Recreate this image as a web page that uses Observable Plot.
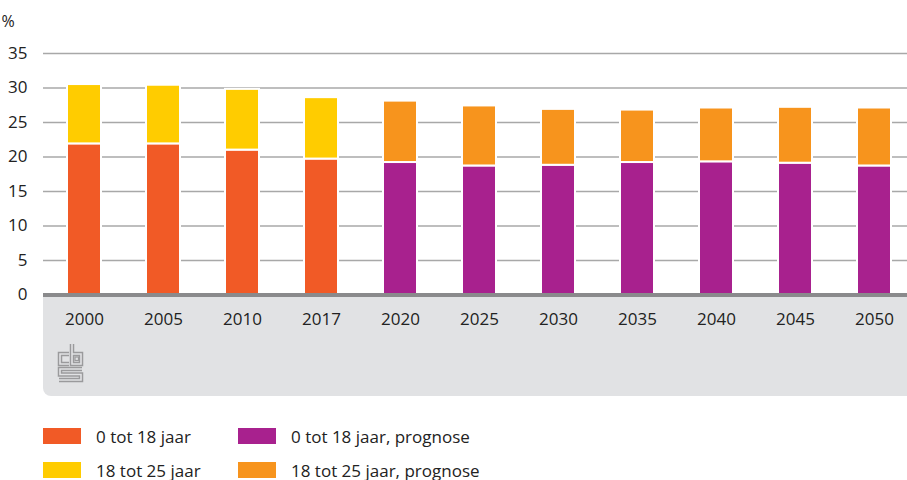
<!DOCTYPE html>
<html>
<head>
<meta charset="utf-8">
<script src="https://cdn.jsdelivr.net/npm/d3@7"></script>
<script src="https://cdn.jsdelivr.net/npm/@observablehq/plot@0.6"></script>
<style>
  html, body { margin: 0; padding: 0; background: #fff; }
  body { width: 907px; height: 480px; position: relative; overflow: hidden; font-family: "Open Sans", "Noto Sans", sans-serif; color: #222; }
  #chart { position: absolute; left: 0; top: 0; }
  .lg { position: absolute; display: flex; align-items: center; font-size: 17px; color: #222; white-space: nowrap; }
  .sw { width: 38px; height: 16px; margin-right: 15px; }
</style>
</head>
<body>
<div id="chart"></div>
<div id="legend"></div>
<script>
const years = ["2000","2005","2010","2017","2020","2025","2030","2035","2040","2045","2050"];
const age0to18 = [21.9, 21.9, 21.0, 19.7, 19.2, 18.7, 18.8, 19.2, 19.3, 19.1, 18.7];
const age18to25 = [8.6, 8.5, 8.8, 8.9, 8.9, 8.7, 8.1, 7.6, 7.8, 8.1, 8.4];
const isPrognose = [false, false, false, false, true, true, true, true, true, true, true];
const seriesNames = ["0 tot 18 jaar", "0 tot 18 jaar, prognose", "18 tot 25 jaar", "18 tot 25 jaar, prognose"];
const seriesColors = ["#f15a26", "#a8218e", "#ffcc00", "#f7941d"];
const yTicks = [0, 5, 10, 15, 20, 25, 30, 35];

const rows = [];
years.forEach((yr, i) => {
  rows.push({year: yr, series: isPrognose[i] ? seriesNames[1] : seriesNames[0], value: age0to18[i]});
  rows.push({year: yr, series: isPrognose[i] ? seriesNames[3] : seriesNames[2], value: age18to25[i]});
});

const chart = Plot.plot({
  width: 907,
  height: 400,
  marginLeft: 43,
  marginRight: 0,
  marginTop: 53,
  marginBottom: 104,
  style: {fontFamily: "'Open Sans', 'Noto Sans', sans-serif", fontSize: "17px", color: "#222", background: "transparent", overflow: "visible"},
  x: {domain: years, range: [42.2, 915.8], paddingInner: 0.57, paddingOuter: 0.3, label: null, axis: null},
  y: {domain: [0, 35], range: [294.5, 53], label: null, axis: null},
  color: {domain: seriesNames, range: seriesColors},
  marks: [
    Plot.ruleY(yTicks.filter(d => d > 0), {stroke: "#a8a8a8", strokeWidth: 1.5}),
    Plot.barY(rows, {x: "year", y: "value", fill: "series", order: seriesNames, stroke: "white", strokeWidth: 2}),
    Plot.ruleY([0], {stroke: "#8a8a8c", strokeWidth: 4}),
    Plot.axisX({tickSize: 0, tickPadding: 16.5, fontSize: 17, fill: "#222"}),
    Plot.axisY(yTicks, {tickSize: 0, tickPadding: 16, fontSize: 17, fill: "#222"})
  ]
});
document.getElementById("chart").appendChild(chart);

// decorations: grey panel, % label, logo
const svg = d3.select(chart);
svg.insert("path", ":first-child")
  .attr("d", "M43,295 H907 V396 H51 A8,8 0 0 1 43,388 Z")
  .attr("fill", "#e1e2e4");
svg.append("text").attr("x", 8).attr("y", 27).attr("font-size", 16).attr("fill", "#222").text("%");
const logo = svg.append("g").attr("fill", "none").attr("stroke-linejoin", "miter");
const logoPaths = [
  "M69,354 H60 V364 H69",
  "M72,344 V364 H81 V354 H72",
  "M82,369 H60 V374.5 H81 V380 H59"
];
logoPaths.forEach(p => {
  logo.append("path").attr("d", p).attr("stroke", "#9a9a9c").attr("stroke-width", 4.5);
  logo.append("path").attr("d", p).attr("stroke", "#e1e2e4").attr("stroke-width", 1.6);
});
logo.append("rect").attr("x", 75).attr("y", 357).attr("width", 3.5).attr("height", 3.5).attr("stroke", "#9a9a9c").attr("stroke-width", 1.2);

// legend
const legendPos = [[43, 428], [238, 428], [43, 462], [238, 462]];
const legendOrder = [0, 1, 2, 3];
const lg = document.getElementById("legend");
legendOrder.forEach((si, k) => {
  const d = document.createElement("div");
  d.className = "lg";
  d.style.left = legendPos[k][0] + "px";
  d.style.top = (legendPos[k][1] - 2) + "px";
  d.style.height = "20px";
  const s = document.createElement("div");
  s.className = "sw";
  s.style.background = seriesColors[si];
  d.appendChild(s);
  const t = document.createElement("span");
  t.textContent = seriesNames[si];
  d.appendChild(t);
  lg.appendChild(d);
});
</script>
</body>
</html>
